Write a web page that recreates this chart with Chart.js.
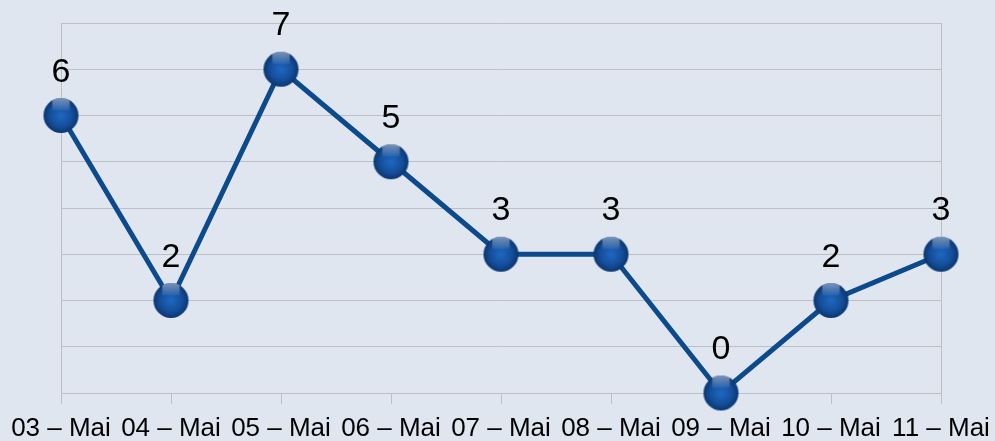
<!DOCTYPE html>
<html>
<head>
<meta charset="utf-8">
<script src="https://cdn.jsdelivr.net/npm/chart.js@4"></script>
<style>
  html, body { margin: 0; padding: 0; background: #dfe6f0; }
  #wrap { width: 995px; height: 441px; }
</style>
</head>
<body>
<div id="wrap"><canvas id="chart"></canvas></div>
<script>
const days = ['03 – Mai', '04 – Mai', '05 – Mai', '06 – Mai', '07 – Mai', '08 – Mai', '09 – Mai', '10 – Mai', '11 – Mai'];
const counts = [6, 2, 7, 5, 3, 3, 0, 2, 3];
const yMin = 0;
const yMax = 8;

const gridGrey = '#bcc0c5';
const lineBlue = '#0c4a8c';

// glossy ball marker
function makeBall(r) {
  const size = Math.ceil(r * 2) + 2;
  const c = document.createElement('canvas');
  c.width = size; c.height = size;
  const ctx = c.getContext('2d');
  const cx = size / 2, cy = size / 2;
  const g = ctx.createRadialGradient(cx, cy, 1, cx, cy, r);
  g.addColorStop(0, '#1d66bf');
  g.addColorStop(0.6, '#154f9a');
  g.addColorStop(1, '#0a3670');
  ctx.beginPath();
  ctx.arc(cx, cy, r, 0, Math.PI * 2);
  ctx.fillStyle = g;
  ctx.fill();
  ctx.save();
  ctx.clip();
  const h = ctx.createLinearGradient(0, cy - r, 0, cy - r * 0.3);
  h.addColorStop(0, 'rgba(200,212,232,0.6)');
  h.addColorStop(1, 'rgba(200,215,240,0.08)');
  ctx.fillStyle = h;
  ctx.fillRect(cx - r * 0.5, cy - r, r, r * 0.7);
  ctx.restore();
  return c;
}
const ball = makeBall(17.5);

const valueLabels = {
  id: 'valueLabels',
  afterDatasetsDraw(chart) {
    const { ctx } = chart;
    const meta = chart.getDatasetMeta(0);
    ctx.save();
    ctx.font = '34px "Liberation Sans", Arial, sans-serif';
    ctx.fillStyle = '#000';
    ctx.textAlign = 'center';
    ctx.textBaseline = 'alphabetic';
    meta.data.forEach((pt, i) => {
      ctx.fillText(String(counts[i]), pt.x, pt.y - 34);
    });
    ctx.restore();
  },
};

new Chart(document.getElementById('chart'), {
  type: 'line',
  data: {
    labels: days,
    datasets: [{
      data: counts,
      borderColor: lineBlue,
      borderWidth: 5,
      tension: 0,
      pointStyle: ball,
      pointRadius: 17.5,
      pointHoverRadius: 17.5,
      clip: false,
    }],
  },
  plugins: [valueLabels],
  options: {
    responsive: true,
    maintainAspectRatio: false,
    animation: false,
    events: [],
    layout: { padding: { left: 61, right: 54, top: 23, bottom: 0 } },
    plugins: { legend: { display: false }, tooltip: { enabled: false } },
    scales: {
      x: {
        offset: false,
        grid: {
          drawOnChartArea: false,
          drawTicks: true,
          tickLength: 11,
          color: gridGrey,
        },
        border: { display: true, color: gridGrey },
        ticks: {
          color: '#000',
          font: { family: '"Liberation Sans", Arial, sans-serif', size: 26 },
          padding: 9,
          maxRotation: 0,
          autoSkip: false,
        },
        afterFit(scale) {
          scale.height = 48;
          scale.paddingLeft = 0;
          scale.paddingRight = 0;
        },
      },
      y: {
        min: yMin,
        max: yMax,
        ticks: { display: false, stepSize: 1 },
        grid: { color: gridGrey, drawTicks: false },
        border: { display: true, color: gridGrey },
        afterFit(scale) { scale.width = 0; },
      },
      y2: {
        position: 'right',
        min: yMin,
        max: yMax,
        ticks: { display: false },
        grid: { display: false, drawTicks: false },
        border: { display: true, color: gridGrey },
        afterFit(scale) { scale.width = 0; },
      },
    },
  },
});
</script>
</body>
</html>
